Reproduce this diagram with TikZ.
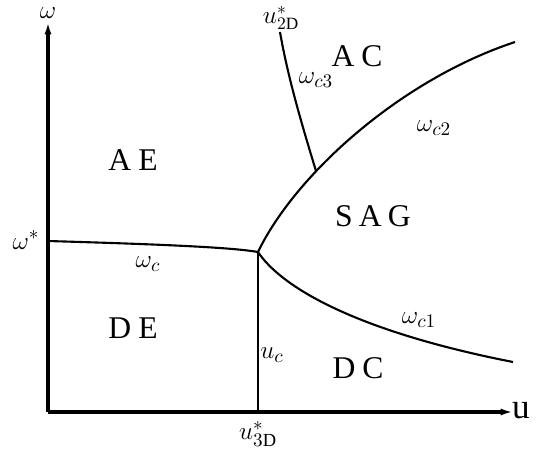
\documentclass[tikz,border=0pt]{standalone}
\usepackage{fontspec}
\setmainfont{Liberation Serif}
\usetikzlibrary{arrows.meta}

\begin{document}
\begin{tikzpicture}[x=0.02cm, y=-0.02cm,
          ax/.style={line width=2pt, -{Latex[length=7pt, width=4pt]}},
          bd/.style={line width=1.2pt},
          reg/.style={font=\fontsize{18}{20}\selectfont},
          lab/.style={font=\fontsize{15}{17}\selectfont}]
        \useasboundingbox (0,0) rectangle (538,451);
        % axes
        \coordinate (O) at (48,412); \coordinate (Y) at (48,22); \coordinate (X) at (513,412);
        \draw[ax] (O) -- (Y);
        \draw[ax] (O) -- (X);
        \node[lab, inner sep=0pt] (ylab) at (48,13) {$\omega$};
        \node[font=\fontsize{20}{22}\selectfont] (xlab) at (521,411) {u};
        % phase boundaries
        \coordinate (T) at (258,252); \coordinate (W) at (48,241); \coordinate (B) at (258,412);
        \coordinate (E1) at (513,362); \coordinate (E2) at (515,42);
        \coordinate (S) at (280,32); \coordinate (J) at (316,171);
        \draw[bd] (W) .. controls (150,244) and (230,247) .. (T);
        \draw[bd] (T) -- (B);
        \draw[bd] (T) .. controls (280,285) and (350,330) .. (E1);
        \draw[bd] (T) .. controls (295,175) and (400,80) .. (E2);
        \draw[bd] (S) .. controls (288,78) and (302,125) .. (J);
        % boundary labels
        \node[lab] (wst) at (26,240) {$\omega^*$};
        \node[font=\fontsize{14}{16}\selectfont, inner sep=0pt, anchor=south] (u2d) at (281,30) {$u^*_{2\mathrm{D}}$};
        \node[lab] (u3d) at (258,434) {$u^*_{3\mathrm{D}}$};
        \node[lab] (wc) at (148,264) {$\omega_c$};
        \node[lab] (uc) at (272,355) {$u_c$};
        \node[lab] (wc1) at (419,320) {$\omega_{c1}$};
        \node[lab] (wc2) at (434,128) {$\omega_{c2}$};
        \node[lab] (wc3) at (316,80) {$\omega_{c3}$};
        % regions
        \node[reg] (ac) at (357,56) {A\hspace{4pt}C};
        \node[reg] (ae) at (133,160) {A\hspace{4pt}E};
        \node[reg] (de) at (133,328) {D\hspace{4pt}E};
        \node[reg] (dc) at (358,368) {D\hspace{4pt}C};
        \node[reg] (sag) at (373,216) {S\hspace{3.5pt}A\hspace{3.5pt}G};
      \end{tikzpicture}
\end{document}
